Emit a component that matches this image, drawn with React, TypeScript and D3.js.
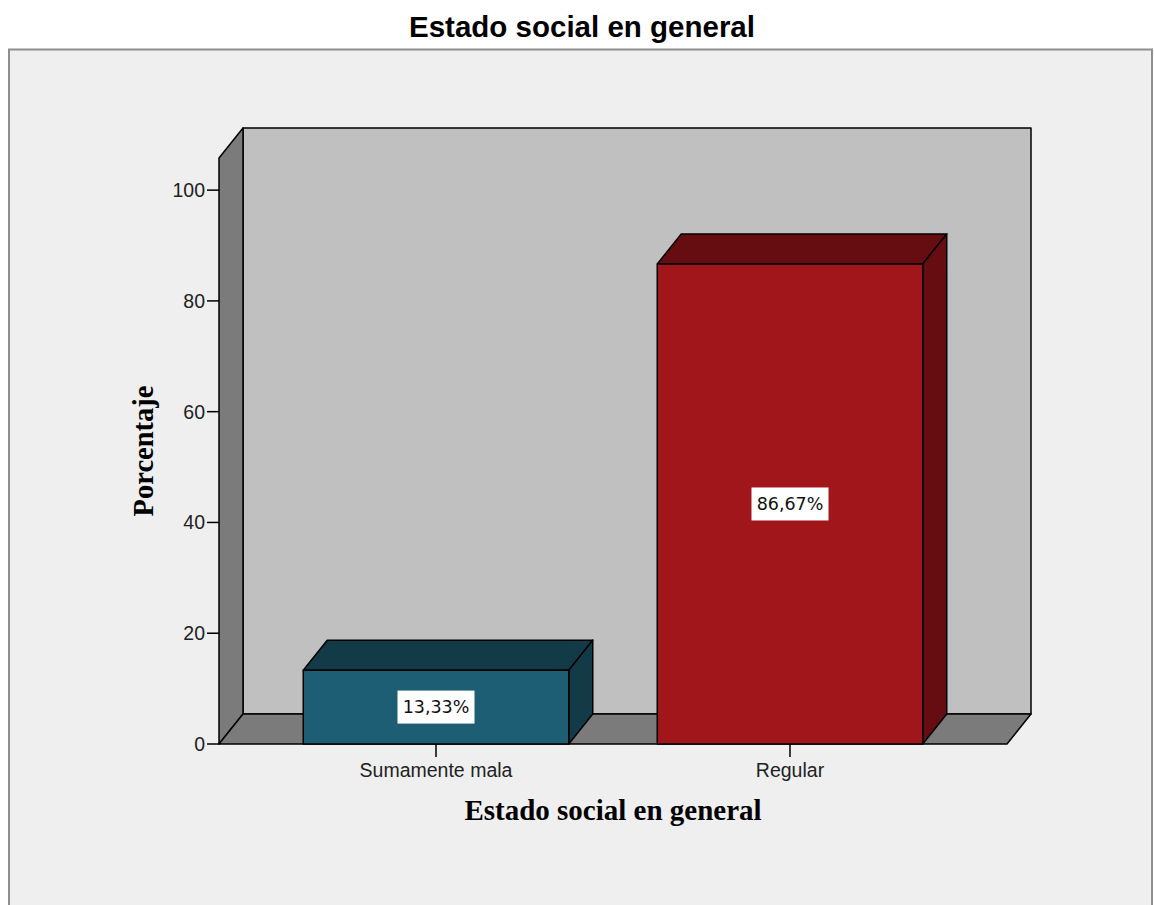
import React, { useEffect } from "react";
import * as d3 from "d3";

// Data
const categories = ["Sumamente mala", "Regular"];
const percentages = [13.33, 86.67];
const yTicks = [0, 20, 40, 60, 80, 100];
const yAxisMax = 105.8;
const frontColors = ["#1d5e75", "#a0161a"];
const shadeColors = ["#133a47", "#650d11"];

const chartTitle = "Estado social en general";
const xTitle = "Estado social en general";
const yTitle = "Porcentaje";

// Layout
const W = 1154;
const H = 905;
const plot = { left: 219, right: 1007, top: 158, bottom: 744 };
const depth = { dx: 24, dy: -30 };

const fmt = (v: number) => v.toFixed(2).replace(".", ",") + "%";

const poly = (pts: [number, number][]) => "M" + pts.map((p) => p.join(",")).join("L") + "Z";

export default function App() {
  useEffect(() => {
    document.body.style.margin = "0";
  }, []);

  const y = d3.scaleLinear().domain([0, yAxisMax]).range([plot.bottom, plot.top]);
  const x = d3
    .scaleBand<string>()
    .domain(categories)
    .range([plot.left, plot.right])
    .paddingInner(0.25)
    .paddingOuter(0.238);

  const { dx, dy } = depth;
  const y0 = y(0);
  const yTop = y(yAxisMax);

  const wallStroke = { stroke: "#000", strokeWidth: 1.5, strokeLinejoin: "round" as const };

  return (
    <svg width={W} height={H} style={{ display: "block", background: "#fff" }}>
      {/* outer panel */}
      <rect x={9} y={49.5} width={1143} height={900} fill="#efefef" stroke="#8f8f8f" strokeWidth={2} />

      <text
        x={582}
        y={37}
        textAnchor="middle"
        fontFamily="'Liberation Sans', Arial, sans-serif"
        fontWeight="bold"
        fontSize={29.5}
        fill="#000"
      >
        {chartTitle}
      </text>

      {/* back wall */}
      <rect
        x={plot.left + dx}
        y={yTop + dy}
        width={plot.right - plot.left}
        height={y0 - yTop}
        fill="#c0c0c0"
        {...wallStroke}
      />
      {/* left wall */}
      <path
        d={poly([
          [plot.left, y0],
          [plot.left, yTop],
          [plot.left + dx, yTop + dy],
          [plot.left + dx, y0 + dy],
        ])}
        fill="#7b7b7b"
        {...wallStroke}
      />
      {/* floor */}
      <path
        d={poly([
          [plot.left, y0],
          [plot.right, y0],
          [plot.right + dx, y0 + dy],
          [plot.left + dx, y0 + dy],
        ])}
        fill="#7b7b7b"
        {...wallStroke}
      />

      {/* y axis ticks */}
      {yTicks.map((t) => (
        <g key={t}>
          <line x1={plot.left - 12} x2={plot.left} y1={y(t)} y2={y(t)} stroke="#000" strokeWidth={1.5} />
          <text
            x={plot.left - 14}
            y={y(t)}
            dy="0.36em"
            textAnchor="end"
            fontFamily="'Liberation Sans', Arial, sans-serif"
            fontSize={19.5}
            fill="#222"
          >
            {t}
          </text>
        </g>
      ))}

      {/* bars */}
      {categories.map((c, i) => {
        const bx = x(c)!;
        const bw = x.bandwidth();
        const v = percentages[i];
        const by = y(v);
        const cx = bx + bw / 2;
        const cy = (by + y0) / 2;
        return (
          <g key={c}>
            <path
              d={poly([
                [bx, by],
                [bx + bw, by],
                [bx + bw + dx, by + dy],
                [bx + dx, by + dy],
              ])}
              fill={shadeColors[i]}
              {...wallStroke}
            />
            <path
              d={poly([
                [bx + bw, y0],
                [bx + bw, by],
                [bx + bw + dx, by + dy],
                [bx + bw + dx, y0 + dy],
              ])}
              fill={shadeColors[i]}
              {...wallStroke}
            />
            <rect x={bx} y={by} width={bw} height={y0 - by} fill={frontColors[i]} {...wallStroke} />
            <rect x={cx - 38.5} y={cy - 16.5} width={77} height={33} fill="#fff" />
            <text
              x={cx}
              y={cy}
              dy="0.36em"
              textAnchor="middle"
              fontFamily="'DejaVu Sans', Verdana, sans-serif"
              fontSize={17.5}
              fill="#111"
            >
              {fmt(v)}
            </text>
            {/* category tick + label */}
            <line x1={cx} x2={cx} y1={y0} y2={y0 + 13} stroke="#000" strokeWidth={1.5} />
            <text
              x={cx}
              y={777}
              textAnchor="middle"
              fontFamily="'Liberation Sans', Arial, sans-serif"
              fontSize={19.5}
              fill="#222"
            >
              {c}
            </text>
          </g>
        );
      })}

      {/* axis titles */}
      <text
        x={(plot.left + plot.right) / 2}
        y={820}
        textAnchor="middle"
        fontFamily="'Liberation Serif', 'Times New Roman', serif"
        fontWeight="bold"
        fontSize={29}
        fill="#000"
      >
        {xTitle}
      </text>
      <text
        transform={`translate(153, ${(plot.top + plot.bottom) / 2}) rotate(-90)`}
        textAnchor="middle"
        fontFamily="'Liberation Serif', 'Times New Roman', serif"
        fontWeight="bold"
        fontSize={28.5}
        fill="#000"
      >
        {yTitle}
      </text>
    </svg>
  );
}
